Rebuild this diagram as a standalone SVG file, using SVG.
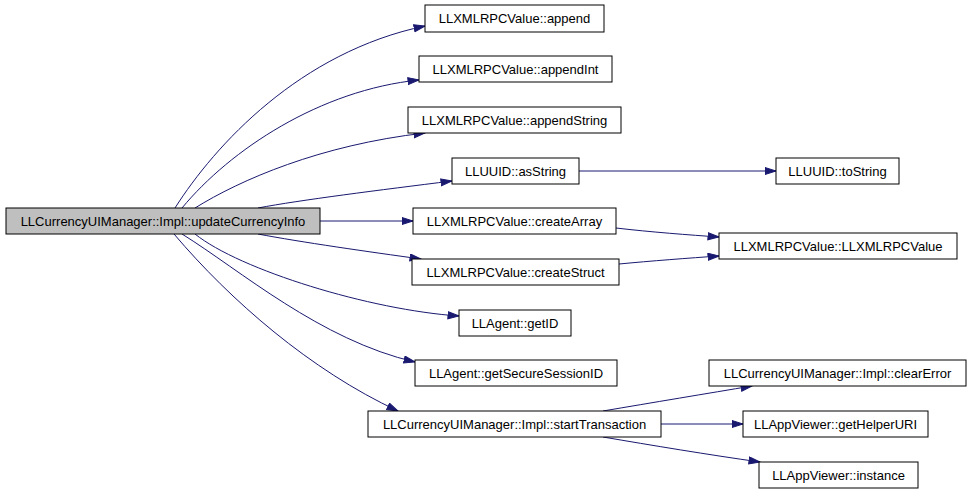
<svg xmlns="http://www.w3.org/2000/svg" width="971" height="493" viewBox="0 0 971 493">
<style>
.n rect{fill:#ffffff;stroke:#000000;stroke-width:1}
.n.main rect{fill:#bfbfbf}
.n text{font-family:"Liberation Sans",Arial,sans-serif;font-size:13px;fill:#000000;text-anchor:middle}
.e path{fill:none;stroke:#191970;stroke-width:1;marker-end:url(#ah)}
</style>
<defs>
<marker id="ah" markerUnits="userSpaceOnUse" markerWidth="13" markerHeight="10" refX="11.5" refY="4" orient="auto">
<path d="M0.5,0.5 L11.5,4 L0.5,7.5 z" fill="#191970" stroke="#191970"/>
</marker>
</defs>
<rect width="971" height="493" fill="#ffffff"/>
<g id="edges" class="e">
<path d="M175,208 C215,145 300,52 425,26"/>
<path d="M182,208 C230,150 320,90 419,80"/>
<path d="M195,208 C240,180 320,145 425,133"/>
<path d="M258,208 C300,200 380,190 452,181"/>
<path d="M320,221 L413,221"/>
<path d="M258,234 C300,242 370,252 421,259"/>
<path d="M195,234 C240,270 370,310 459,316"/>
<path d="M182,234 C240,270 320,340 415,362"/>
<path d="M174,234 C230,300 310,370 398,411"/>
<path d="M579,171 L776,171"/>
<path d="M616,228 C650,232 690,235 719,237"/>
<path d="M619,264 C650,261 690,258 719,256"/>
<path d="M603,411 C650,403 710,393 752,386"/>
<path d="M661,424 L743,424"/>
<path d="M603,437 C650,445 710,455 760,462"/>
</g>
<g id="updateCurrencyInfo" class="n main"><rect x="6" y="208" width="314" height="26"/><text x="163" y="225.5">LLCurrencyUIManager::Impl::updateCurrencyInfo</text></g>
<g id="append" class="n"><rect x="425" y="5" width="179" height="27"/><text x="514.5" y="23">LLXMLRPCValue::append</text></g>
<g id="appendInt" class="n"><rect x="419" y="56" width="193" height="26"/><text x="515.5" y="73.5">LLXMLRPCValue::appendInt</text></g>
<g id="appendString" class="n"><rect x="408" y="107" width="213" height="26"/><text x="514.5" y="124.5">LLXMLRPCValue::appendString</text></g>
<g id="asString" class="n"><rect x="452" y="158" width="127" height="26"/><text x="515.5" y="175.5">LLUUID::asString</text></g>
<g id="toString" class="n"><rect x="776" y="158" width="123" height="26"/><text x="837.5" y="175.5">LLUUID::toString</text></g>
<g id="createArray" class="n"><rect x="413" y="208" width="203" height="26"/><text x="514.5" y="225.5">LLXMLRPCValue::createArray</text></g>
<g id="LLXMLRPCValue" class="n"><rect x="719" y="233" width="238" height="26"/><text x="838" y="250.5">LLXMLRPCValue::LLXMLRPCValue</text></g>
<g id="createStruct" class="n"><rect x="412" y="259" width="207" height="26"/><text x="515.5" y="276.5">LLXMLRPCValue::createStruct</text></g>
<g id="getID" class="n"><rect x="459" y="310" width="112" height="26"/><text x="515" y="327.5">LLAgent::getID</text></g>
<g id="getSecureSessionID" class="n"><rect x="415" y="360" width="202" height="26"/><text x="516" y="377.5">LLAgent::getSecureSessionID</text></g>
<g id="startTransaction" class="n"><rect x="368" y="411" width="293" height="26"/><text x="514.5" y="428.5">LLCurrencyUIManager::Impl::startTransaction</text></g>
<g id="clearError" class="n"><rect x="709" y="360" width="257" height="26"/><text x="837.5" y="377.5">LLCurrencyUIManager::Impl::clearError</text></g>
<g id="getHelperURI" class="n"><rect x="743" y="411" width="185" height="26"/><text x="835.5" y="428.5">LLAppViewer::getHelperURI</text></g>
<g id="instance" class="n"><rect x="759" y="462" width="159" height="26"/><text x="838.5" y="479.5">LLAppViewer::instance</text></g>
</svg>
